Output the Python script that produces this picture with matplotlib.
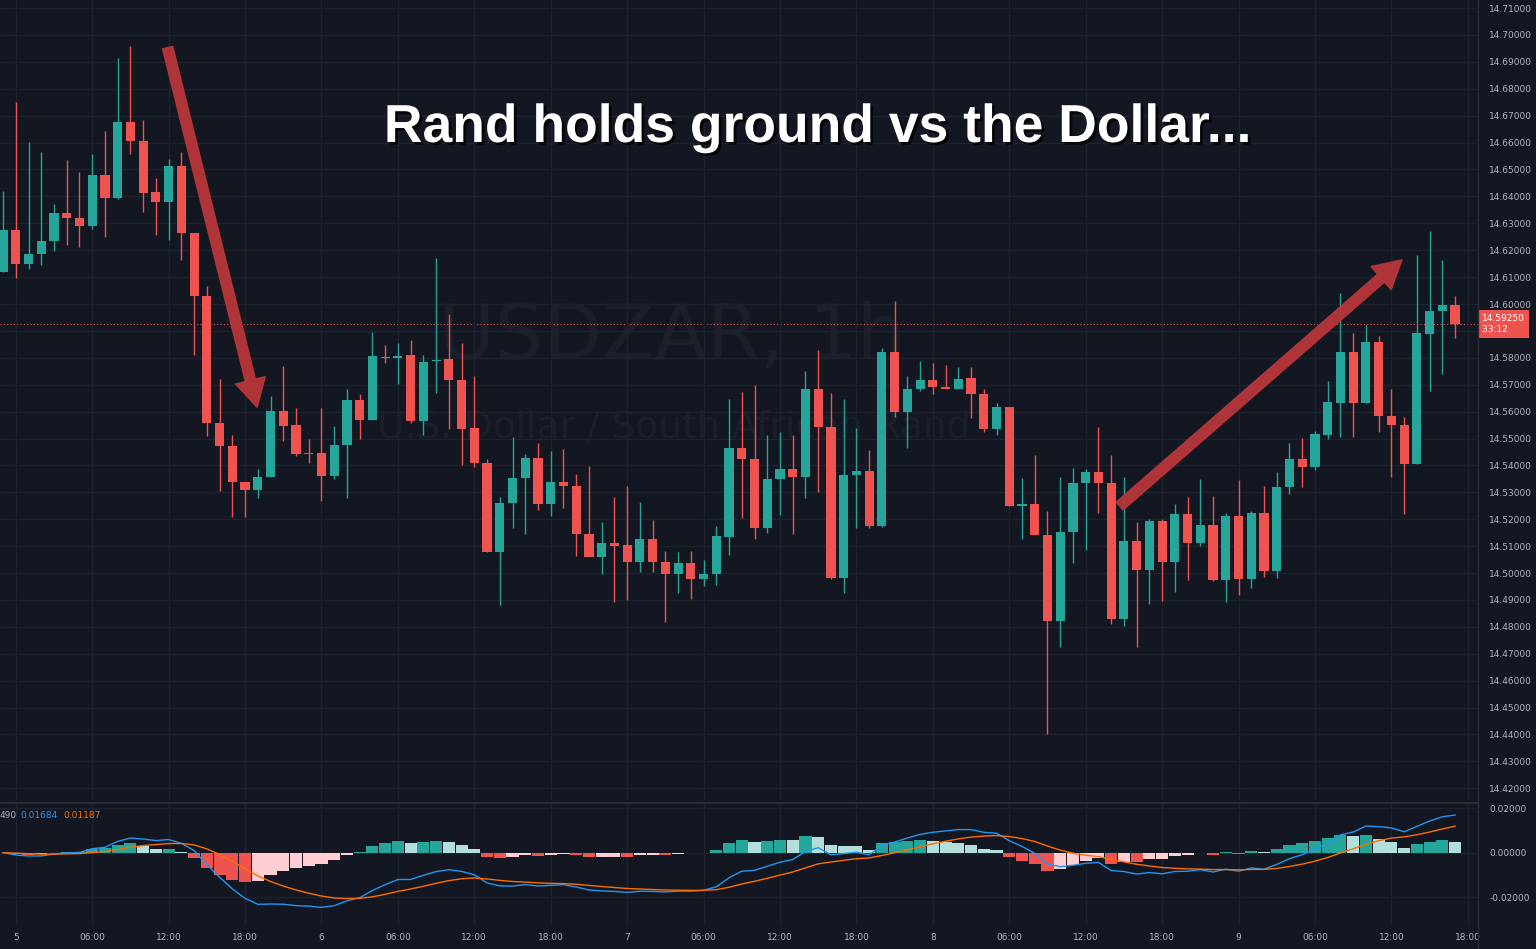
import numpy as np
import pandas as pd
import matplotlib
matplotlib.use("Agg")
import matplotlib.pyplot as plt
import matplotlib.patheffects as pe

# ---- data (USDZAR 1h) ----
opens = [14.6119,14.6275,14.6149,14.6186,14.6234,14.6338,14.6320,14.6290,14.6480,14.6394,
         14.6677,14.6606,14.6416,14.6379,14.6513,14.6264,14.6030,14.5558,14.5472,14.5338,
         14.5309,14.5357,14.5602,14.5550,14.5446,14.5446,14.5361,14.5476,14.5643,14.5569,
         14.5803,14.5799,14.5810,14.5565,14.5788,14.5796,14.5718,14.5539,14.5409,14.5078,
         14.5260,14.5353,14.5428,14.5257,14.5338,14.5324,14.5145,14.5060,14.5112,14.5104,
         14.5041,14.5127,14.5041,14.4996,14.5037,14.4978,14.4996,14.5134,14.5465,14.5424,
         14.5167,14.5350,14.5387,14.5357,14.5684,14.5543,14.4982,14.5364,14.5379,14.5175,
         14.5822,14.5599,14.5684,14.5718,14.5692,14.5684,14.5725,14.5666,14.5535,14.5617,
         14.5249,14.5257,14.5141,14.4822,14.5152,14.5335,14.5376,14.5335,14.4829,14.5119,
         14.5011,14.5193,14.5041,14.5219,14.5112,14.5179,14.4974,14.5212,14.4978,14.5223,
         14.5008,14.5320,14.5424,14.5394,14.5513,14.5632,14.5822,14.5632,14.5859,14.5584,
         14.5550,14.5405,14.5889,14.5974,14.5996]
highs = [14.6420,14.6751,14.6602,14.6565,14.6372,14.6535,14.6491,14.6558,14.6643,14.6914,
         14.6959,14.6684,14.6468,14.6539,14.6565,14.6264,14.6067,14.5721,14.5513,14.5338,
         14.5387,14.5658,14.5770,14.5613,14.5498,14.5613,14.5547,14.5684,14.5666,14.5896,
         14.5848,14.5855,14.5866,14.5810,14.6171,14.5963,14.5855,14.5732,14.5424,14.5283,
         14.5506,14.5442,14.5483,14.5454,14.5461,14.5368,14.5398,14.5190,14.5283,14.5324,
         14.5264,14.5197,14.5082,14.5078,14.5082,14.5048,14.5175,14.5647,14.5673,14.5699,
         14.5513,14.5524,14.5513,14.5751,14.5829,14.5669,14.5647,14.5539,14.5457,14.5837,
         14.6011,14.5732,14.5788,14.5781,14.5773,14.5766,14.5766,14.5684,14.5632,14.5617,
         14.5353,14.5439,14.5231,14.5357,14.5390,14.5387,14.5543,14.5439,14.5357,14.5190,
         14.5201,14.5201,14.5257,14.5283,14.5350,14.5286,14.5223,14.5346,14.5231,14.5324,
         14.5376,14.5483,14.5502,14.5528,14.5714,14.6041,14.5892,14.5922,14.5881,14.5684,
         14.5580,14.6182,14.6271,14.6164,14.6030]
lows = [14.6119,14.6097,14.6130,14.6145,14.6197,14.6219,14.6212,14.6279,14.6249,14.6390,
        14.6558,14.6342,14.6257,14.6238,14.6164,14.5810,14.5509,14.5305,14.5208,14.5208,
        14.5279,14.5357,14.5491,14.5435,14.5410,14.5268,14.5350,14.5279,14.5498,14.5569,
        14.5781,14.5703,14.5558,14.5513,14.5669,14.5535,14.5402,14.5394,14.5078,14.4881,
        14.5167,14.5145,14.5234,14.5212,14.5242,14.5063,14.5060,14.4996,14.4892,14.4900,
        14.5004,14.5004,14.4818,14.4926,14.4904,14.4952,14.4956,14.5067,14.5205,14.5127,
        14.5149,14.5216,14.5145,14.5279,14.5301,14.4978,14.4926,14.5167,14.5167,14.5171,
        14.5580,14.5465,14.5677,14.5666,14.5684,14.5684,14.5576,14.5524,14.5513,14.5249,
        14.5127,14.5141,14.4402,14.4725,14.5037,14.5086,14.5223,14.4811,14.4803,14.4725,
        14.4885,14.4896,14.4930,14.4974,14.5101,14.4971,14.4892,14.4918,14.4945,14.4985,
        14.4982,14.5294,14.5320,14.5383,14.5498,14.5506,14.5506,14.5632,14.5524,14.5357,
        14.5219,14.5405,14.5677,14.5740,14.5874]
closes = [14.6275,14.6149,14.6186,14.6234,14.6338,14.6320,14.6290,14.6480,14.6394,14.6677,
          14.6606,14.6413,14.6379,14.6513,14.6264,14.6030,14.5558,14.5472,14.5338,14.5309,
          14.5357,14.5602,14.5547,14.5442,14.5442,14.5361,14.5476,14.5643,14.5569,14.5807,
          14.5799,14.5807,14.5565,14.5784,14.5792,14.5718,14.5535,14.5409,14.5078,14.5260,
          14.5353,14.5428,14.5257,14.5338,14.5324,14.5145,14.5060,14.5112,14.5101,14.5041,
          14.5127,14.5041,14.4996,14.5037,14.4978,14.4996,14.5138,14.5465,14.5424,14.5167,
          14.5350,14.5387,14.5357,14.5684,14.5543,14.4982,14.5364,14.5379,14.5175,14.5822,
          14.5599,14.5684,14.5718,14.5692,14.5684,14.5721,14.5666,14.5535,14.5617,14.5249,
          14.5257,14.5141,14.4822,14.5152,14.5335,14.5376,14.5335,14.4829,14.5119,14.5011,
          14.5193,14.5041,14.5219,14.5112,14.5179,14.4974,14.5212,14.4978,14.5223,14.5008,
          14.5320,14.5424,14.5394,14.5517,14.5636,14.5822,14.5632,14.5859,14.5584,14.5550,
          14.5405,14.5892,14.5974,14.5996,14.5926]
time_labels = ["5","06:00","12:00","18:00","6","06:00","12:00","18:00","7","06:00","12:00","18:00",
               "8","06:00","12:00","18:00","9","06:00","12:00","18:00"]
price_ticks = [round(14.42 + 0.01*k, 2) for k in range(30)]
last_price = 14.5925
title = "Rand holds ground vs the Dollar..."

BG = "#131722"; GRID = "#1e222d"; TXT = "#b2b5be"
UP = "#26a69a"; DN = "#ef5350"

o = np.array(opens); h = np.array(highs); l = np.array(lows); c = np.array(closes)
x = np.arange(len(o))
cols = np.where(c >= o, UP, DN)

fig = plt.figure(figsize=(15.36, 9.49), dpi=100, facecolor=BG)
W = 1478/1536
ax = fig.add_axes([0, 1-800/949, W, 800/949], facecolor=BG)
ax2 = fig.add_axes([0, 1-925/949, W, 123/949], facecolor=BG, sharex=ax)

# watermark
ax.text(0.455, 0.578, "USDZAR, 1h", transform=ax.transAxes, ha="center", va="center",
        fontsize=55, color="#1b1f2a", zorder=0)
ax.text(0.456, 0.465, "U.S. Dollar / South African Rand", transform=ax.transAxes, ha="center",
        va="center", fontsize=27, color="#1b1f2a", zorder=0)

ax.vlines(x, l, h, colors=cols, linewidth=1, zorder=2)
body_lo = np.minimum(o, c); body_h = np.maximum(np.abs(c - o), 0.0003)
ax.bar(x, body_h, bottom=body_lo, width=0.72, color=cols, linewidth=0, zorder=3)

ax.set_xlim(-0.24, 115.8)
ax.set_ylim(14.7130 - 800*0.0003717, 14.7130)
ax.set_yticks(price_ticks)
ax.set_yticklabels(["" if abs(p - 14.59) < 1e-6 else f"{p:.5f}" for p in price_ticks])
ax.yaxis.tick_right()
tick_pos = [1 + 6*k for k in range(len(time_labels))]
ax.set_xticks(tick_pos)
ax.grid(True, color=GRID, linewidth=1)
ax.tick_params(axis="x", labelbottom=False, length=0)
ax.tick_params(axis="y", length=0, pad=8, labelsize=6.5, labelcolor=TXT)
for s in ax.spines.values():
    s.set_visible(False)

ax.axhline(last_price, color=DN, linestyle=(0, (1, 2)), linewidth=0.8, zorder=1)
ax.annotate(f"{last_price:.5f}\n33:12 ", xy=(1.0, last_price), xycoords=("axes fraction", "data"),
            xytext=(3, 0), textcoords="offset points", ha="left", va="center", fontsize=6.5,
            color="white", annotation_clip=False, linespacing=1.3,
            bbox=dict(boxstyle="square,pad=0.45", fc=DN, ec="none"))

# title
ax.text(0.5535, 0.84, title, transform=ax.transAxes, ha="center", va="center",
        fontsize=38.5, fontweight="bold", color="white", family="Liberation Sans",
        path_effects=[pe.SimplePatchShadow(offset=(2, -2), shadow_rgbFace="black", alpha=0.7),
                      pe.Normal()], zorder=10)

# arrows
acol = "#b8363a"
for (x0, y0, x1, y1) in [(12.87, 14.6963, 20.0, 14.5606), (87.5, 14.5242, 110.0, 14.6171)]:
    ax.annotate("", xy=(x1, y1), xytext=(x0, y0),
                arrowprops=dict(arrowstyle="simple,head_width=2.2,head_length=2.0,tail_width=0.75",
                                fc=acol, ec=acol, alpha=0.95, capstyle="round"), zorder=9)

# MACD
cs = pd.Series(c)
macd = cs.ewm(span=12, adjust=False).mean() - cs.ewm(span=26, adjust=False).mean()
sig = macd.ewm(span=9, adjust=False).mean()
hist = (macd - sig).values
prev = np.concatenate([[0], hist[:-1]])
hcols = []
for v, pv in zip(hist, prev):
    if v >= 0:
        hcols.append(UP if v >= pv else "#b2dfdb")
    else:
        hcols.append(DN if v <= pv else "#ffcdd2")
ax2.bar(x, hist, width=0.95, color=hcols, linewidth=0, zorder=2)
ax2.plot(x, macd.values, color="#2196f3", linewidth=1, zorder=3)
ax2.plot(x, sig.values, color="#ff6d00", linewidth=1, zorder=3)
ax2.set_ylim(-0.0324, 0.0227)
ax2.set_yticks([-0.02, 0.0, 0.02])
ax2.set_yticklabels(["-0.02000", "0.00000", "0.02000"])
ax2.yaxis.tick_right()
ax2.set_xticks(tick_pos)
ax2.set_xticklabels(time_labels)
ax2.grid(True, color=GRID, linewidth=1)
ax2.tick_params(axis="x", length=0, pad=6, labelsize=6.5, labelcolor=TXT)
ax2.tick_params(axis="y", length=0, pad=8, labelsize=6.5, labelcolor=TXT)
for s in ax2.spines.values():
    s.set_visible(False)
ax2.axhline(ax2.get_ylim()[1], color="#2a2e39", linewidth=2)

fig.text(0.0, 1-816/949, "490", color=TXT, fontsize=6.5, va="center")
fig.text(0.0135, 1-816/949, f"{macd.values[-1]:.5f}", color="#2196f3", fontsize=6.5, va="center")
fig.text(0.041, 1-816/949, f"{sig.values[-1]:.5f}", color="#ff6d00", fontsize=6.5, va="center")
fig.add_artist(plt.Line2D([W, W], [0, 1], color="#2a2e39", linewidth=1, transform=fig.transFigure))

fig.savefig("out.png", dpi=100, facecolor=BG)
